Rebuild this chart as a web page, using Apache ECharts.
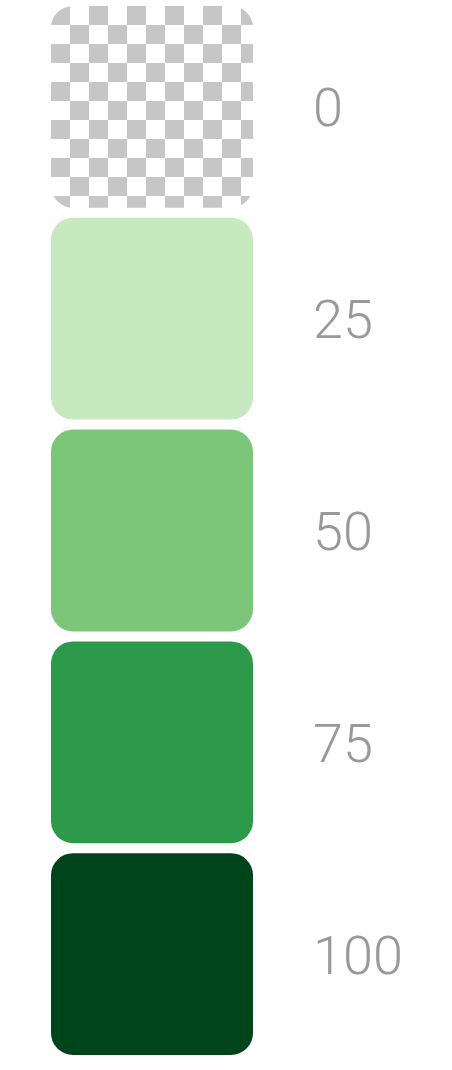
<!DOCTYPE html>
<html>
<head>
<meta charset="utf-8">
<script src="https://cdn.jsdelivr.net/npm/echarts@6/dist/echarts.min.js"></script>
<style>
html,body{margin:0;padding:0;background:#ffffff;}
#main{width:452px;height:1070px;}
</style>
</head>
<body>
<div id="main"></div>
<script>
// Legend data
const categories = ['0', '25', '50', '75', '100'];
const values = [0, 25, 50, 75, 100];

// Palette (style), index-aligned with values; null = transparent (checkerboard)
const palette = [null, '#c7e9c0', '#7cc67a', '#2d9a4b', '#00441b'];

function makeChecker(cell) {
  const c = document.createElement('canvas');
  c.width = cell * 2; c.height = cell * 2;
  const ctx = c.getContext('2d');
  ctx.fillStyle = '#ffffff';
  ctx.fillRect(0, 0, c.width, c.height);
  ctx.fillStyle = '#c6c6c6';
  ctx.fillRect(0, 0, cell, cell);
  ctx.fillRect(cell, cell, cell, cell);
  return c;
}
const checker = makeChecker(19);

const chart = echarts.init(document.getElementById('main'), null, {renderer: 'canvas'});
const BOX_W = 202, GAP = 10, RADIUS = 22, LABEL_DX = 262, LABEL_DY = 6;

chart.setOption({
  animation: false,
  backgroundColor: '#ffffff',
  grid: {left: 51, right: 0, top: 1, bottom: 10},
  xAxis: {type: 'value', min: 0, max: 1, show: false},
  yAxis: {type: 'category', data: categories, inverse: true, show: false},
  series: [{
    type: 'custom',
    data: values.map((v, i) => [i, v]),
    encode: {y: 0},
    renderItem: function (params, api) {
      const idx = api.value(0);
      const p = api.coord([0, idx]);
      const bandH = api.size([0, 1])[1];
      const h = bandH - GAP;
      const x = p[0], y = p[1] - h / 2;
      const col = palette[idx];
      const fill = col ? col : {image: checker, repeat: 'repeat', x: x, y: y};
      return {
        type: 'group',
        children: [
          {type: 'rect', shape: {x: x, y: y, width: BOX_W, height: h, r: RADIUS}, style: {fill: fill}},
          {type: 'text', style: {
            text: String(api.value(1)), x: x + LABEL_DX, y: p[1] + LABEL_DY,
            verticalAlign: 'middle', align: 'left',
            fontFamily: 'Roboto', fontWeight: 300, fontSize: 54, fill: '#999999'
          }}
        ]
      };
    }
  }]
});
</script>
</body>
</html>
